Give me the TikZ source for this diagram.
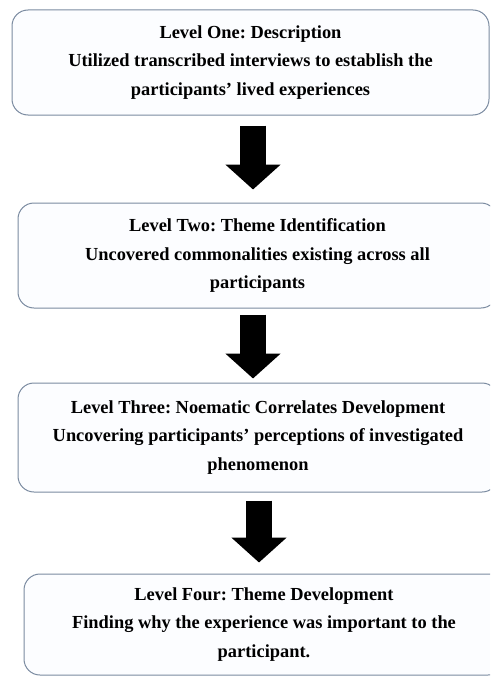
\documentclass[tikz,border=0pt]{standalone}
\usepackage{fontspec}
\setmainfont{Liberation Serif}
\usepackage{tikz}
\usetikzlibrary{arrows.meta,positioning}
\definecolor{boxline}{RGB}{122,138,160}
\definecolor{boxfill}{RGB}{252,253,255}
\frenchspacing

\tikzset{
    levelbox/.style={draw=boxline, line width=1pt, fill=boxfill, rounded corners=16pt,
        minimum width=480pt, inner sep=0pt, align=center,
        font=\fontsize{18.4pt}{28.5pt}\selectfont\bfseries},
    downarrow/.style={line width=26pt, -{Triangle[width=54pt,length=25pt]}}
}

\begin{document}
\begin{tikzpicture}[x=1pt,y=-1pt]
    \useasboundingbox (0,0) rectangle (490,677);
    \clip (0,0) rectangle (490,677);

    % the four levels
    \node[levelbox, minimum width=477pt, minimum height=105pt] (lvlone) at (250.5,62.5)
        {Level One: Description\\ Utilized transcribed interviews to establish the\\ participants' lived experiences};
    \node[levelbox, minimum width=479pt, minimum height=105pt] (lvltwo) at (257.5,255.5)
        {Level Two: Theme Identification\\ Uncovered commonalities existing across all\\ participants};
    \node[levelbox, minimum height=109pt] (lvlthree) at (258,437.5)
        {Level Three: Noematic Correlates Development\\ Uncovering participants' perceptions of investigated\\ phenomenon};
    \node[levelbox, minimum height=101pt] (lvlfour) at (264,624.5)
        {Level Four: Theme Development\\ Finding why the experience was important to the\\ participant.};

    % block arrows between levels
    \draw[downarrow, shorten <=10pt, shorten >=13pt] ([xshift=2.5pt]lvlone.south) -- ([xshift=-4.5pt]lvltwo.north);
    \draw[downarrow, shorten <=6pt, shorten >=4pt] ([xshift=-4.5pt]lvltwo.south) -- ([xshift=-5pt]lvlthree.north);
    \draw[downarrow, shorten <=8pt, shorten >=11pt] ([xshift=1pt]lvlthree.south) -- ([xshift=-5pt]lvlfour.north);
\end{tikzpicture}
\end{document}
